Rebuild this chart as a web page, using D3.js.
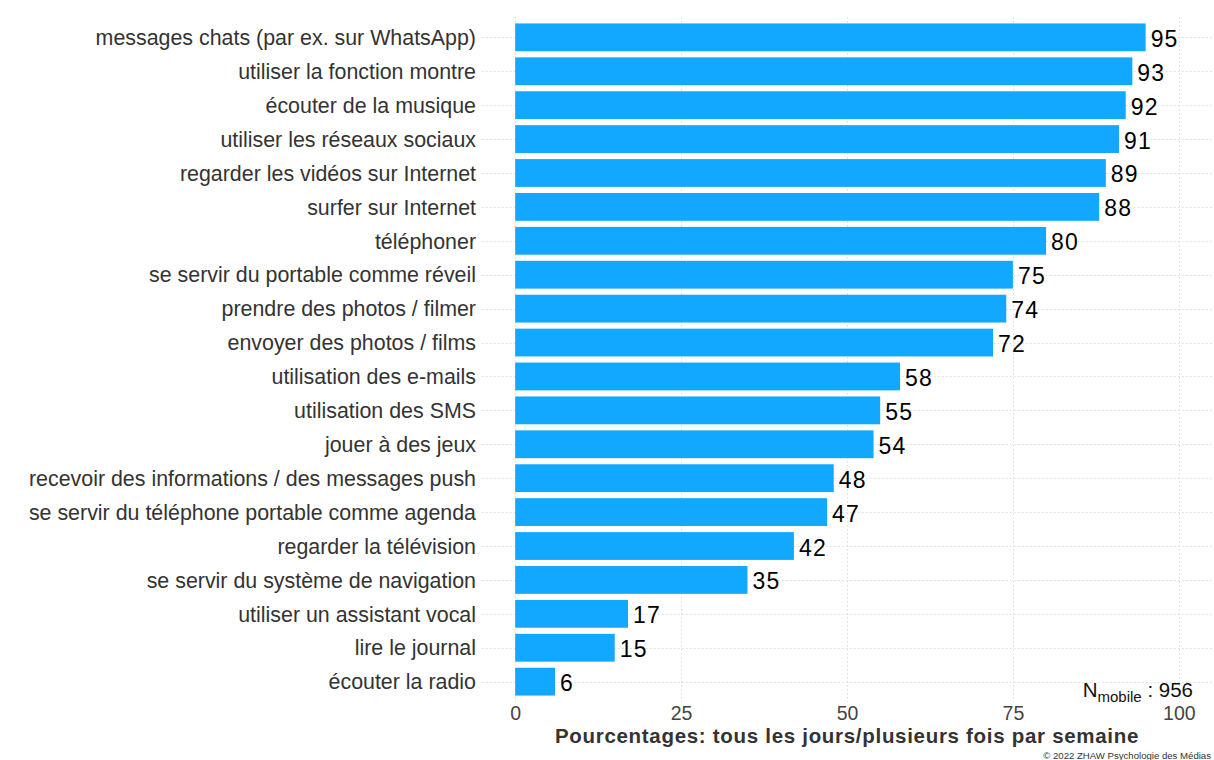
<!DOCTYPE html>
<html>
<head>
<meta charset="utf-8">
<script src="https://cdn.jsdelivr.net/npm/d3@7"></script>
<style>
  html, body { margin: 0; padding: 0; background: #fff; }
  svg { display: block; font-family: "Liberation Sans", Arial, sans-serif; }
</style>
</head>
<body>
<svg id="chart" width="1214" height="760"></svg>
<script>
// Smartphone activities, share of daily / several-times-a-week use
const categories = [
  "messages chats (par ex. sur WhatsApp)",
  "utiliser la fonction montre",
  "écouter de la musique",
  "utiliser les réseaux sociaux ",
  "regarder les vidéos sur Internet",
  "surfer sur Internet",
  "téléphoner",
  "se servir du portable comme réveil",
  "prendre des photos / filmer",
  "envoyer des photos / films",
  "utilisation des e-mails",
  "utilisation des SMS",
  "jouer à des jeux",
  "recevoir des informations / des messages push",
  "se servir du téléphone portable comme agenda",
  "regarder la télévision",
  "se servir du système de navigation",
  "utiliser un assistant vocal ",
  "lire le journal",
  "écouter la radio"
];
const values = [95, 93, 92, 91, 89, 88, 80, 75, 74, 72, 58, 55, 54, 48, 47, 42, 35, 17, 15, 6];
const xTicks = [0, 25, 50, 75, 100];
const axisTitle = "Pourcentages: tous les jours/plusieurs fois par semaine";
const sampleLabel = "mobile";
const sampleSize = 956;
const credit = "© 2022 ZHAW Psychologie des Médias";

const svg = d3.select("#chart");
const panel = { left: 482, right: 1212, top: 17, bottom: 702 };

const x = d3.scaleLinear().domain([-5, 105]).range([panel.left, panel.right]);
const y = d3.scaleBand().domain(categories)
  .range([panel.top, panel.bottom]).paddingInner(0.18).paddingOuter(0.19);
const yc = d => y(d) + y.bandwidth() / 2;

const grid = svg.append("g").attr("stroke", "#dcdcdc").attr("stroke-width", 1)
  .attr("stroke-dasharray", "1.5,2.5");
grid.selectAll("line.h").data(categories).join("line").attr("class", "h")
  .attr("x1", panel.left).attr("x2", panel.right)
  .attr("y1", d => Math.round(yc(d)) + 0.5).attr("y2", d => Math.round(yc(d)) + 0.5);
grid.selectAll("line.v").data(xTicks).join("line").attr("class", "v")
  .attr("x1", d => Math.round(x(d)) + 0.5).attr("x2", d => Math.round(x(d)) + 0.5)
  .attr("y1", panel.top).attr("y2", panel.bottom);

svg.append("g").selectAll("rect").data(categories).join("rect")
  .attr("x", x(0)).attr("y", d => y(d))
  .attr("width", (d, i) => x(values[i]) - x(0))
  .attr("height", y.bandwidth())
  .attr("fill", "#12a8ff");

svg.append("g").selectAll("text").data(categories).join("text")
  .attr("x", (d, i) => x(values[i]) + 5)
  .attr("y", d => yc(d) + 9.5)
  .attr("font-size", 23).attr("letter-spacing", 1.2).attr("fill", "#000")
  .text((d, i) => values[i]);

// Category axis
const yAxis = svg.append("g").attr("transform", `translate(${panel.left - 6},0)`)
  .call(d3.axisLeft(y).tickSize(0).tickPadding(0));
yAxis.select(".domain").remove();
yAxis.selectAll("text").attr("font-size", 21.4).attr("fill", "#333")
  .attr("font-family", "Liberation Sans, Arial, sans-serif")
  .attr("dy", "0.36em");

// Value axis
const xAxis = svg.append("g").attr("transform", `translate(0,${panel.bottom + 3})`)
  .call(d3.axisBottom(x).tickValues(xTicks).tickSize(0).tickPadding(0));
xAxis.select(".domain").remove();
xAxis.selectAll("text").attr("font-size", 19.5).attr("fill", "#444")
  .attr("font-family", "Liberation Sans, Arial, sans-serif")
  .attr("dy", "0.75em");

svg.append("text")
  .attr("x", (panel.left + panel.right) / 2).attr("y", 743)
  .attr("text-anchor", "middle").attr("font-size", 20.5).attr("font-weight", "bold")
  .attr("letter-spacing", 0.7)
  .attr("fill", "#333").text(axisTitle);

const n = svg.append("text").attr("x", 1193).attr("y", 697)
  .attr("text-anchor", "end").attr("font-size", 20.5).attr("fill", "#111");
n.append("tspan").text("N");
n.append("tspan").attr("font-size", 15).attr("dy", 5).text(sampleLabel);
n.append("tspan").attr("dy", -5).text(" : " + sampleSize);

svg.append("text").attr("x", 1211).attr("y", 759)
  .attr("text-anchor", "end").attr("font-size", 9.6).attr("fill", "#333").text(credit);
</script>
</body>
</html>
